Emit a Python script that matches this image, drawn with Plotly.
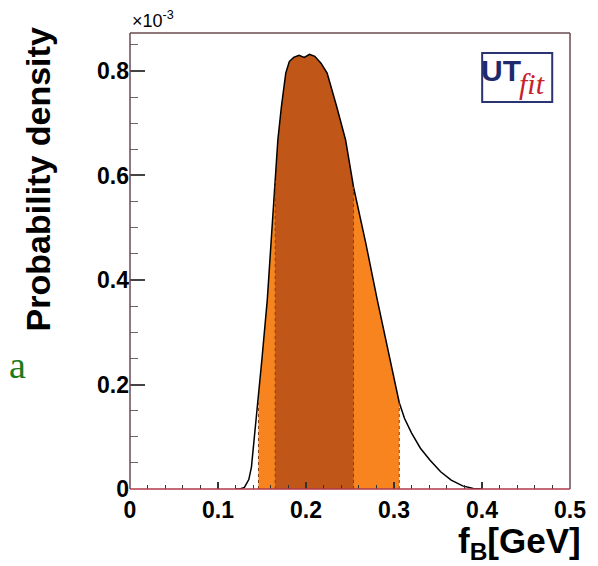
import plotly.graph_objects as go
import numpy as np

# ---- data (probability density in units of 1e-3) ----
fb = [0.120, 0.125, 0.130, 0.135, 0.138, 0.142, 0.146, 0.150, 0.156, 0.160,
      0.165, 0.168, 0.172, 0.177, 0.181, 0.186, 0.192, 0.198, 0.204, 0.210,
      0.217, 0.224, 0.235, 0.245, 0.254, 0.268, 0.281, 0.293, 0.306, 0.312,
      0.320, 0.330, 0.341, 0.353, 0.365, 0.378, 0.390, 0.400]
density = [0.0, 0.0, 0.003, 0.018, 0.042, 0.107, 0.172, 0.250, 0.362, 0.470,
           0.590, 0.668, 0.731, 0.796, 0.818, 0.826, 0.830, 0.826, 0.832, 0.828,
           0.815, 0.796, 0.731, 0.668, 0.578, 0.470, 0.362, 0.265, 0.165, 0.135,
           0.107, 0.078, 0.055, 0.033, 0.017, 0.006, 0.001, 0.0]
band95 = [0.146, 0.306]
band68 = [0.165, 0.254]
x_ticks = [0, 0.1, 0.2, 0.3, 0.4, 0.5]
y_ticks = [0, 0.2, 0.4, 0.6, 0.8]

fb_a = np.array(fb)
d_a = np.array(density)

LIGHT = "#F7841E"
DARK = "#C05618"

fig = go.Figure()

def band_trace(lo, hi, color):
    m = (fb_a >= lo - 1e-9) & (fb_a <= hi + 1e-9)
    return go.Scatter(x=fb_a[m], y=d_a[m], mode="lines", line=dict(width=0, color=color),
                      fill="tozeroy", fillcolor=color, hoverinfo="skip", showlegend=False)

fig.add_trace(band_trace(band95[0], band95[1], LIGHT))
fig.add_trace(band_trace(band68[0], band68[1], DARK))
fig.add_trace(go.Scatter(x=fb, y=density, mode="lines", line=dict(color="black", width=1.5),
                         showlegend=False))

# dotted band edges
for xe in band95 + band68:
    ye = float(d_a[np.argmin(np.abs(fb_a - xe))])
    fig.add_shape(type="line", x0=xe, x1=xe, y0=0, y1=ye, xref="x", yref="y",
                  line=dict(color="#8a3c10", width=1, dash="dot"))

FRAME = "#6a4a50"
# frame
fig.add_shape(type="line", xref="paper", yref="paper", x0=0, x1=1, y0=1, y1=1, line=dict(color=FRAME, width=1.5))
fig.add_shape(type="line", xref="paper", yref="paper", x0=0, x1=0, y0=0, y1=1, line=dict(color=FRAME, width=1.5))
fig.add_shape(type="line", xref="paper", yref="paper", x0=1, x1=1, y0=0, y1=1, line=dict(color=FRAME, width=1.5))
fig.add_shape(type="line", xref="paper", yref="paper", x0=0, x1=1, y0=0, y1=0, line=dict(color="#b03a4a", width=1.5))

# logo box
fig.add_shape(type="rect", xref="paper", yref="paper", x0=0.8004, x1=0.9596, y0=0.8487, y1=0.956,
              line=dict(color="#2a3470", width=2), fillcolor="white")

tickfont = dict(family="Liberation Sans, Arial, sans-serif", size=23, color="black", weight="bold")

# page body has an 8px default margin, so the figure is shrunk by 8px to keep the plot area in place
fig.update_layout(
    width=590, height=558,
    margin=dict(l=122, r=22, t=25, b=77),
    paper_bgcolor="white", plot_bgcolor="white",
    xaxis=dict(range=[0, 0.5], tickvals=x_ticks, ticktext=[f"{v:g}" for v in x_ticks],
               ticks="inside", ticklen=7, tickwidth=1.5, tickcolor="#333", ticklabelstandoff=5,
               minor=dict(dtick=0.02, ticks="inside", ticklen=4, tickwidth=1.2, tickcolor="#333"),
               showgrid=False, zeroline=False, showline=False, tickfont=tickfont),
    yaxis=dict(range=[0, 0.8727], tickvals=y_ticks, ticktext=[f"{v:g}" for v in y_ticks],
               ticks="inside", ticklen=15, tickwidth=1.5, tickcolor="#444",
               minor=dict(dtick=0.05, ticks="inside", ticklen=8, tickwidth=1.2, tickcolor="#666"),
               showgrid=False, zeroline=False, showline=False, tickfont=tickfont),
)

ann = [
    dict(text="×10<sup>-3</sup>", x=0, y=1, xref="paper", yref="paper", xanchor="left", yanchor="bottom",
         showarrow=False, font=dict(family="Liberation Sans, Arial", size=18, color="black")),
    dict(text="Probability density", x=0, y=0.679, xref="paper", yref="paper", xshift=-92,
         xanchor="center", yanchor="middle", textangle=-90, showarrow=False,
         font=dict(family="Liberation Sans, Arial", size=34, color="black", weight="bold")),
    dict(text="f<sub>B</sub>[GeV]", x=1.03, y=0, xref="paper", yref="paper", yshift=-54,
         xanchor="right", yanchor="middle", showarrow=False,
         font=dict(family="Liberation Sans, Arial", size=35, color="black", weight="bold")),
    dict(text="UT", x=0.843, y=0.9167, xref="paper", yref="paper", xanchor="center", yanchor="middle",
         showarrow=False, font=dict(family="Liberation Sans, Arial", size=30, color="#1f2a6e", weight="bold")),
    dict(text="fit", x=0.914, y=0.889, xref="paper", yref="paper", xanchor="center", yanchor="middle",
         showarrow=False, font=dict(family="Liberation Serif, Times New Roman", size=30, color="#c8202c",
                                    style="italic")),
    dict(text="a", x=-0.2735, y=0.272, xref="paper", yref="paper", xanchor="left", yanchor="middle",
         xshift=-3, showarrow=False,
         font=dict(family="Liberation Serif, Times New Roman", size=38, color="#1a7a1a")),
]
fig.update_layout(annotations=ann)

fig.write_html("out.html")
